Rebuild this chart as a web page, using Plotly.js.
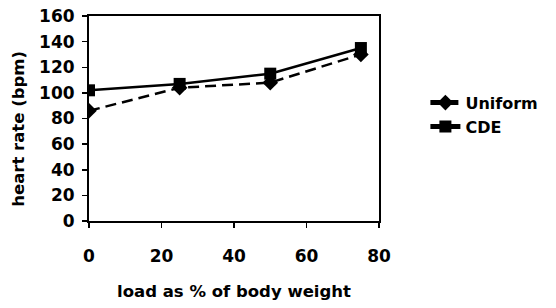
<!DOCTYPE html>
<html><head><meta charset="utf-8">
<script src="https://cdn.plot.ly/plotly-3.0.1.min.js"></script>
<style>body{margin:0;background:#fff}#c{width:556px;height:308px}</style>
</head><body><div id="c"></div>
<script>
const loads = [0, 25, 50, 75];
const uniform = [86, 104, 108, 130];
const cde = [102, 107, 115, 135];
const xTicks = [0, 20, 40, 60, 80];
const yTicks = [0, 20, 40, 60, 80, 100, 120, 140, 160];
const xTitle = 'load as % of body weight';
const yTitle = 'heart rate (bpm)';

const fam = 'DejaVu Sans, Arial, sans-serif';
const f = (s) => ({family: fam, size: s, color: '#000', weight: 'bold'});
const data = [
  {x: loads, y: uniform, name: 'Uniform', mode: 'lines+markers', type: 'scatter',
   line: {color: '#000', width: 2.5, dash: '11px,6px'}, marker: {symbol: 'diamond', size: 12, color: '#000'}},
  {x: loads, y: cde, name: 'CDE', mode: 'lines+markers', type: 'scatter',
   line: {color: '#000', width: 2.5}, marker: {symbol: 'square', size: 12, color: '#000'}}
];
const layout = {
  width: 556, height: 308,
  margin: {l: 89, r: 177, t: 16, b: 87},
  paper_bgcolor: '#fff', plot_bgcolor: '#fff',
  showlegend: true,
  legend: {x: 1.16, y: 0.66, xanchor: 'left', yanchor: 'top', font: f(16), tracegroupgap: 0, itemsizing: 'constant'},
  xaxis: {range: [0, 80], tickvals: xTicks, ticks: 'outside', ticklen: 5, tickwidth: 1.5, tickcolor: '#000',
    showline: true, linecolor: '#000', linewidth: 2, mirror: true, showgrid: false, zeroline: false,
    tickfont: f(17), ticklabelstandoff: 14,
    title: {text: xTitle, font: f(16.5), standoff: 20}},
  yaxis: {range: [0, 160], tickvals: yTicks, ticks: 'outside', ticklen: 5, tickwidth: 1.5, tickcolor: '#000',
    showline: true, linecolor: '#000', linewidth: 2, mirror: true, showgrid: false, zeroline: false,
    tickfont: f(17), ticklabelstandoff: 4},
  annotations: [{text: yTitle, textangle: -90, font: f(16.5), showarrow: false,
    xref: 'paper', yref: 'paper', x: 0, y: 0.45, xanchor: 'center', yanchor: 'middle', xshift: -70}]
};
Plotly.newPlot('c', data, layout, {displayModeBar: false, staticPlot: true});
</script></body></html>
